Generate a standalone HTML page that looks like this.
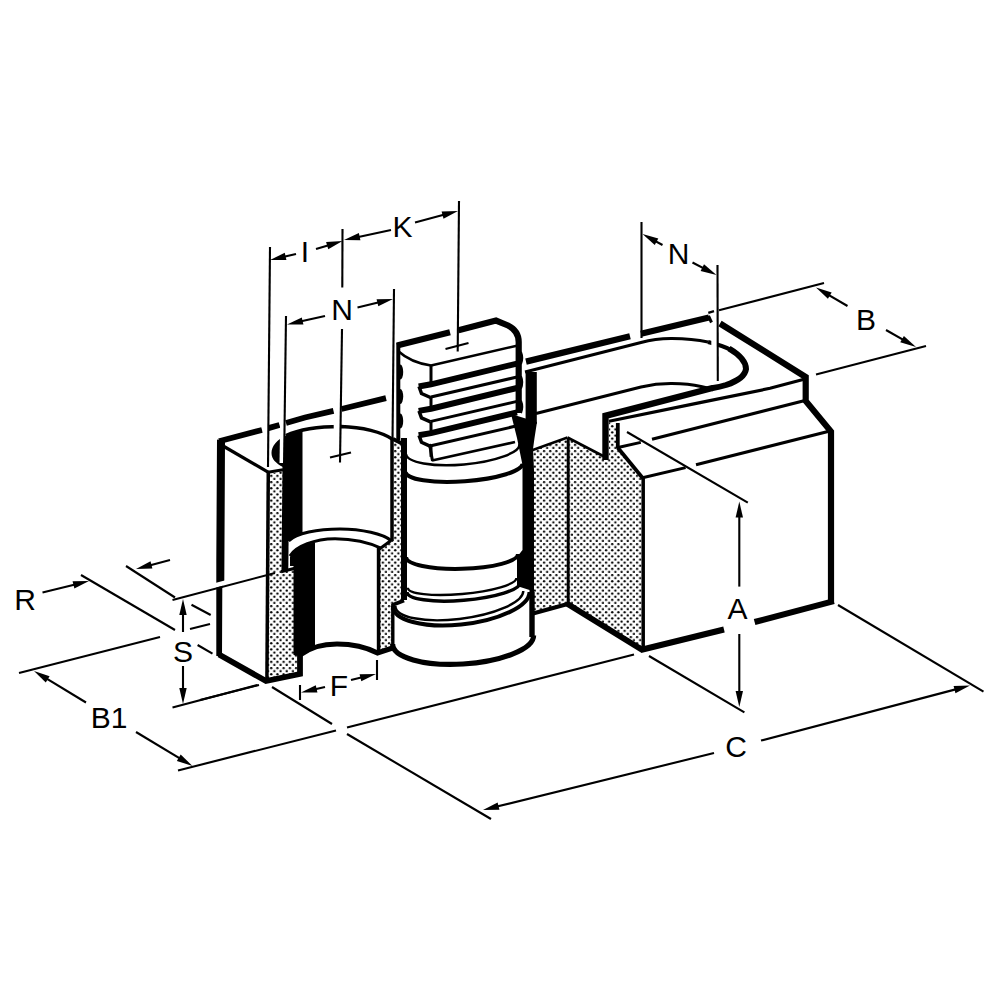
<!DOCTYPE html>
<html><head><meta charset="utf-8"><style>
html,body{margin:0;padding:0;background:#fff;}
body{width:1000px;height:1000px;overflow:hidden;}
svg{display:block;font-family:"Liberation Sans",sans-serif;}
</style></head><body>
<svg width="1000" height="1000" viewBox="0 0 1000 1000">
<defs>
<pattern id="dots" width="6.2" height="6.2" patternUnits="userSpaceOnUse">
<rect width="6.2" height="6.2" fill="#fff"/>
<circle cx="1.55" cy="1.55" r="1.17" fill="#000"/>
<circle cx="4.65" cy="4.65" r="1.17" fill="#000"/>
</pattern>
</defs>
<rect width="1000" height="1000" fill="#fff"/>
<polygon points="270,474 283,471 283,571.5 294.8,568.5 294.8,655 300,655 300,674 267,681" fill="url(#dots)" stroke="none" stroke-width="0"/>
<polygon points="394,442 403,445 403,602 392,606 392,647.5 379,652 379,548 392,540" fill="url(#dots)" stroke="none" stroke-width="0"/>
<polygon points="530,451 567.5,437.5 604,456.5 609,458 609,422 617.5,427.5 617.5,446 642.5,477 642.5,649.5 567.6,604 533,613" fill="url(#dots)" stroke="none" stroke-width="0"/>
<path d="M302.5,430 L302.5,534 C296,535.5 291,538 288.6,541 L283,541 L283,467 C276,463.5 271.5,459 271.5,453 C271.5,446 277,439.5 286,435.5 C291,433 297,431 302.5,430 Z" fill="#000" stroke="none" stroke-width="0" stroke-linejoin="miter" stroke-linecap="butt"/>
<path d="M290,557 C292,550 302,545 315,542.5 L315,646.5 L300,655.5 L294.5,655.5 L294.5,566 L290,566 Z" fill="#000" stroke="none" stroke-width="0" stroke-linejoin="miter" stroke-linecap="butt"/>
<polygon points="525.6,372 536.8,372 536.8,424 525.6,420" fill="#000" stroke="none" stroke-width="0"/>
<polygon points="511,414 537,422 534.5,438 533,449 534,470 534,596 529.5,596 529.5,590 517,586 517,557 522.5,550 522.5,465 517,438" fill="#000" stroke="none" stroke-width="0"/>
<polygon points="217,439.5 225,441.5 224.3,581 222.3,588 222,656 216.3,656 216.3,560" fill="#000" stroke="none" stroke-width="0"/>
<path d="M219,654.5 L266,681 L300,674 L300,655" fill="none" stroke="#000" stroke-width="5.8" stroke-linejoin="miter" stroke-linecap="butt"/>
<path d="M300,655 C310,647.5 323,644 337,644 C352,644 366,647 377.5,653 L392.5,648" fill="none" stroke="#000" stroke-width="5.2" stroke-linejoin="miter" stroke-linecap="butt"/>
<line x1="224" y1="446.5" x2="268.5" y2="472.3" stroke="#000" stroke-width="3.2" stroke-linecap="butt"/>
<line x1="268.3" y1="471" x2="266.9" y2="682" stroke="#000" stroke-width="3.5" stroke-linecap="butt"/>
<line x1="268" y1="472.3" x2="283" y2="469.8" stroke="#000" stroke-width="3" stroke-linecap="butt"/>
<line x1="285.9" y1="464" x2="284.9" y2="571" stroke="#000" stroke-width="6.8" stroke-linecap="butt"/>
<line x1="281" y1="571.8" x2="295" y2="568.3" stroke="#000" stroke-width="3" stroke-linecap="butt"/>
<line x1="294.5" y1="565" x2="294.5" y2="655" stroke="#000" stroke-width="2" stroke-linecap="butt"/>
<path d="M219,441.20 L262,430.00" fill="none" stroke="#000" stroke-width="5.8" stroke-linejoin="miter" stroke-linecap="butt"/>
<path d="M267.5,428.40 L279.5,424.91" fill="none" stroke="#000" stroke-width="5.8" stroke-linejoin="miter" stroke-linecap="butt"/>
<path d="M286,423.02 L305,417.50 L333.5,410.85" fill="none" stroke="#000" stroke-width="5.8" stroke-linejoin="miter" stroke-linecap="butt"/>
<path d="M341.5,408.98 L342.5,408.75 L386,398.17" fill="none" stroke="#000" stroke-width="5.8" stroke-linejoin="miter" stroke-linecap="butt"/>
<path d="M286,435.5 C300,429 320,426.5 341,426.5 C362,427 382,432 393,439.5" fill="none" stroke="#000" stroke-width="3.5" stroke-linejoin="miter" stroke-linecap="butt"/>
<line x1="392" y1="439" x2="392" y2="541" stroke="#000" stroke-width="3.5" stroke-linecap="butt"/>
<path d="M288.6,541 C296,533 318,529 340,529 C362,529 383,534 391,540.5" fill="none" stroke="#000" stroke-width="3" stroke-linejoin="miter" stroke-linecap="butt"/>
<path d="M290,556 C296,546 315,539 335,538.8 C352,539 368,542 381.4,548.4" fill="none" stroke="#000" stroke-width="3" stroke-linejoin="miter" stroke-linecap="butt"/>
<line x1="391" y1="540.5" x2="379.5" y2="549" stroke="#000" stroke-width="3" stroke-linecap="butt"/>
<line x1="378.6" y1="548" x2="378.6" y2="652" stroke="#000" stroke-width="3.6" stroke-linecap="butt"/>
<line x1="393" y1="439" x2="405" y2="445" stroke="#000" stroke-width="4" stroke-linecap="butt"/>
<line x1="404" y1="438" x2="404" y2="600" stroke="#000" stroke-width="6" stroke-linecap="butt"/>
<path d="M405.5,472 A58.65,13.5 -4.16 0 0 522.5,463.5" fill="none" stroke="#000" stroke-width="4" stroke-linejoin="miter" stroke-linecap="butt"/>
<path d="M406,454 A56.97,15.5 -5.04 0 0 519.5,444" fill="none" stroke="#000" stroke-width="2.5" stroke-linejoin="miter" stroke-linecap="butt"/>
<line x1="432" y1="460.5" x2="515" y2="442" stroke="#000" stroke-width="2.6" stroke-linecap="butt"/>
<path d="M406.00,557.00 C406.00,564.35 431.07,569.63 462.00,568.80 C492.93,567.97 518.00,561.35 518.00,554.00" fill="none" stroke="#000" stroke-width="4" stroke-linejoin="miter" stroke-linecap="butt"/>
<path d="M407.80,587.70 C407.80,593.86 432.13,596.68 462.15,594.00 C492.17,591.32 516.50,584.16 516.50,578.00" fill="none" stroke="#000" stroke-width="2.4" stroke-linejoin="miter" stroke-linecap="butt"/>
<path d="M407.00,592.00 C407.00,599.21 432.41,602.92 463.75,600.30 C495.09,597.68 520.50,589.71 520.50,582.50" fill="none" stroke="#000" stroke-width="3.5" stroke-linejoin="miter" stroke-linecap="butt"/>
<line x1="392.8" y1="604" x2="392.8" y2="647" stroke="#000" stroke-width="3.4" stroke-linecap="butt"/>
<line x1="532" y1="592" x2="532" y2="637" stroke="#000" stroke-width="5.4" stroke-linecap="butt"/>
<path d="M392.5,605 L404,600.5" fill="none" stroke="#000" stroke-width="4" stroke-linejoin="miter" stroke-linecap="butt"/>
<path d="M392.80,606.00 C392.80,620.14 423.40,628.47 461.15,624.60 C498.90,620.73 529.50,606.14 529.50,592.00" fill="none" stroke="#000" stroke-width="4" stroke-linejoin="miter" stroke-linecap="butt"/>
<path d="M395.40,606.00 C395.40,617.32 424.03,623.14 459.35,619.00 C494.67,614.86 523.30,602.32 523.30,591.00" fill="none" stroke="#000" stroke-width="2.4" stroke-linejoin="miter" stroke-linecap="butt"/>
<path d="M392.60,644.00 C392.60,657.39 424.16,666.35 463.10,664.00 C502.04,661.65 533.60,648.89 533.60,635.50" fill="none" stroke="#000" stroke-width="5.2" stroke-linejoin="miter" stroke-linecap="butt"/>
<path d="M397,345.5 L450,332.3" fill="none" stroke="#000" stroke-width="6.2" stroke-linejoin="miter" stroke-linecap="butt"/>
<path d="M458.5,330.2 L496,320.6 L508,325.5 C515,329 518.7,334 518.7,342 L518.7,413" fill="none" stroke="#000" stroke-width="6.2" stroke-linejoin="miter" stroke-linecap="butt"/>
<path d="M398.3,343 L398.3,440" fill="none" stroke="#000" stroke-width="4" stroke-linejoin="miter" stroke-linecap="butt"/>
<ellipse cx="400.3" cy="372" rx="2.9" ry="7.5" fill="#000"/>
<ellipse cx="400.3" cy="396.5" rx="2.9" ry="7.5" fill="#000"/>
<ellipse cx="400.3" cy="421" rx="2.9" ry="7.5" fill="#000"/>
<path d="M398,351 C408,360 420,364 431,365.5" fill="none" stroke="#000" stroke-width="2.5" stroke-linejoin="miter" stroke-linecap="butt"/>
<line x1="431" y1="365.5" x2="518" y2="345.4" stroke="#000" stroke-width="2.6" stroke-linecap="butt"/>
<line x1="431" y1="365" x2="431" y2="385" stroke="#000" stroke-width="3" stroke-linecap="butt"/>
<path d="M418.7,386.5 L431,384.3 L517,363.6" fill="none" stroke="#000" stroke-width="6" stroke-linejoin="miter" stroke-linecap="butt"/>
<path d="M419,386.5 L421.5,393.5 L430.5,397.5" fill="none" stroke="#000" stroke-width="3.5" stroke-linejoin="miter" stroke-linecap="butt"/>
<line x1="431" y1="397.0" x2="517" y2="377.0" stroke="#000" stroke-width="3" stroke-linecap="butt"/>
<line x1="431" y1="397.0" x2="431" y2="408.0" stroke="#000" stroke-width="3" stroke-linecap="butt"/>
<path d="M418.7,410.9 L431,408.7 L517,388.0" fill="none" stroke="#000" stroke-width="6" stroke-linejoin="miter" stroke-linecap="butt"/>
<path d="M419,410.9 L421.5,417.9 L430.5,421.9" fill="none" stroke="#000" stroke-width="3.5" stroke-linejoin="miter" stroke-linecap="butt"/>
<line x1="431" y1="421.4" x2="517" y2="401.4" stroke="#000" stroke-width="3" stroke-linecap="butt"/>
<line x1="431" y1="421.4" x2="431" y2="432.4" stroke="#000" stroke-width="3" stroke-linecap="butt"/>
<path d="M418.7,435.3 L431,433.1 L517,412.40000000000003" fill="none" stroke="#000" stroke-width="6" stroke-linejoin="miter" stroke-linecap="butt"/>
<path d="M419,435.3 L421.5,442.3 L430.5,446.3" fill="none" stroke="#000" stroke-width="3.5" stroke-linejoin="miter" stroke-linecap="butt"/>
<line x1="431" y1="445.8" x2="517" y2="425.8" stroke="#000" stroke-width="3" stroke-linecap="butt"/>
<line x1="431" y1="445.8" x2="431" y2="456.8" stroke="#000" stroke-width="3" stroke-linecap="butt"/>
<line x1="429.5" y1="444" x2="432.5" y2="461" stroke="#000" stroke-width="3" stroke-linecap="butt"/>
<path d="M520.5,352.0 q2.5,6 0,12" fill="none" stroke="#000" stroke-width="3" stroke-linejoin="miter" stroke-linecap="butt"/>
<path d="M520.5,376.4 q2.5,6 0,12" fill="none" stroke="#000" stroke-width="3" stroke-linejoin="miter" stroke-linecap="butt"/>
<path d="M520.5,400.8 q2.5,6 0,12" fill="none" stroke="#000" stroke-width="3" stroke-linejoin="miter" stroke-linecap="butt"/>
<line x1="526" y1="361.6" x2="630" y2="336.3" stroke="#000" stroke-width="6.3" stroke-linecap="butt"/>
<line x1="641" y1="333.8" x2="709" y2="317.5" stroke="#000" stroke-width="6.3" stroke-linecap="butt"/>
<line x1="708.5" y1="316" x2="711.5" y2="322.5" stroke="#000" stroke-width="3" stroke-linecap="butt"/>
<path d="M525,372 L641,342.5 C652,339.5 662,338.5 672,338.6 C686,338.8 698,340 708,342" fill="none" stroke="#000" stroke-width="3" stroke-linejoin="miter" stroke-linecap="butt"/>
<path d="M708,342 C718,344.5 726,347 731,350" fill="none" stroke="#000" stroke-width="4.2" stroke-linejoin="miter" stroke-linecap="butt"/>
<path d="M729,348.5 C740,355 746,362 746,369 C745,376 738,381 726,385 C721,386.5 716,387.5 711.6,388.3" fill="none" stroke="#000" stroke-width="6" stroke-linejoin="miter" stroke-linecap="butt"/>
<path d="M712.5,388 L605.5,415.8 L605.5,460" fill="none" stroke="#000" stroke-width="6.4" stroke-linejoin="miter" stroke-linecap="butt"/>
<path d="M536,413.5 L641,387 C652,384.5 662,383.5 672,383.6 C684,383.8 694,385 701,386.5 L712,389" fill="none" stroke="#000" stroke-width="3" stroke-linejoin="miter" stroke-linecap="butt"/>
<path d="M609,421.2 L700,402.6 L770,388.3 L805,379" fill="none" stroke="#000" stroke-width="3.2" stroke-linejoin="miter" stroke-linecap="butt"/>
<line x1="617.8" y1="423" x2="617.8" y2="448" stroke="#000" stroke-width="3.8" stroke-linecap="butt"/>
<line x1="618" y1="447.5" x2="640.8" y2="442.4" stroke="#000" stroke-width="3" stroke-linecap="butt"/>
<line x1="652" y1="439.2" x2="805" y2="400.5" stroke="#000" stroke-width="3.2" stroke-linecap="butt"/>
<line x1="617.6" y1="447.5" x2="643" y2="478.5" stroke="#000" stroke-width="3.8" stroke-linecap="butt"/>
<line x1="642.5" y1="477.8" x2="685.6" y2="467.6" stroke="#000" stroke-width="3" stroke-linecap="butt"/>
<line x1="696" y1="464.8" x2="830" y2="431" stroke="#000" stroke-width="3.2" stroke-linecap="butt"/>
<path d="M720,323.5 L805.7,377 L805.7,401 L831,431.5 L831,604" fill="none" stroke="#000" stroke-width="6.2" stroke-linejoin="miter" stroke-linecap="butt"/>
<line x1="833.8" y1="601.2" x2="754.6" y2="622" stroke="#000" stroke-width="6" stroke-linecap="butt"/>
<line x1="724" y1="629.5" x2="640.5" y2="650" stroke="#000" stroke-width="6" stroke-linecap="butt"/>
<line x1="643.2" y1="477" x2="643.2" y2="650" stroke="#000" stroke-width="3.5" stroke-linecap="butt"/>
<line x1="568.2" y1="438" x2="568.2" y2="604" stroke="#000" stroke-width="3" stroke-linecap="butt"/>
<line x1="567.5" y1="437.5" x2="530" y2="451" stroke="#000" stroke-width="2.4" stroke-linecap="butt"/>
<line x1="567.5" y1="437.5" x2="605" y2="457" stroke="#000" stroke-width="2.6" stroke-linecap="butt"/>
<line x1="533" y1="613.5" x2="567.6" y2="604" stroke="#000" stroke-width="4" stroke-linecap="butt"/>
<line x1="566" y1="603" x2="642.4" y2="650" stroke="#000" stroke-width="5.8" stroke-linecap="butt"/>
<line x1="265.7" y1="418" x2="265.2" y2="464" stroke="#fff" stroke-width="5.5"/>
<line x1="212" y1="586.2" x2="228" y2="582" stroke="#fff" stroke-width="4.6"/>
<line x1="282.4" y1="413" x2="281.6" y2="463" stroke="#fff" stroke-width="4.2"/>
<line x1="337.2" y1="420" x2="337.2" y2="432" stroke="#fff" stroke-width="7"/>
<line x1="714.3" y1="336" x2="714.3" y2="351" stroke="#fff" stroke-width="6"/>
<line x1="270" y1="247" x2="268" y2="467" stroke="#000" stroke-width="2.1" stroke-linecap="butt"/>
<line x1="286" y1="316" x2="284" y2="468" stroke="#000" stroke-width="2.1" stroke-linecap="butt"/>
<line x1="342.5" y1="229" x2="342.3" y2="287.5" stroke="#000" stroke-width="2.1" stroke-linecap="butt"/>
<line x1="342" y1="329" x2="340" y2="462.5" stroke="#000" stroke-width="2.1" stroke-linecap="butt"/>
<line x1="330" y1="457.5" x2="351" y2="452.5" stroke="#000" stroke-width="2.1" stroke-linecap="butt"/>
<line x1="394" y1="289" x2="392.5" y2="441" stroke="#000" stroke-width="2.1" stroke-linecap="butt"/>
<line x1="459" y1="201" x2="457.7" y2="351.5" stroke="#000" stroke-width="2.1" stroke-linecap="butt"/>
<line x1="445.5" y1="349" x2="468.5" y2="343" stroke="#000" stroke-width="2.1" stroke-linecap="butt"/>
<line x1="296" y1="254" x2="279.74" y2="257.75" stroke="#000" stroke-width="2.1" stroke-linecap="butt"/>
<polygon points="270,260 284.76,252.8 286.42,260.01" fill="#000" stroke="none" stroke-width="0"/>
<line x1="316" y1="249" x2="332.93" y2="243.89" stroke="#000" stroke-width="2.1" stroke-linecap="butt"/>
<polygon points="342.5,241 328.25,249.17 326.11,242.08" fill="#000" stroke="none" stroke-width="0"/>
<line x1="391" y1="230" x2="353.78" y2="237.92" stroke="#000" stroke-width="2.1" stroke-linecap="butt"/>
<polygon points="344,240 358.88,233.05 360.42,240.29" fill="#000" stroke="none" stroke-width="0"/>
<line x1="415" y1="222.5" x2="448.34" y2="213.58" stroke="#000" stroke-width="2.1" stroke-linecap="butt"/>
<polygon points="458,211 443.5,218.71 441.59,211.56" fill="#000" stroke="none" stroke-width="0"/>
<line x1="325" y1="316" x2="296.76" y2="322.32" stroke="#000" stroke-width="2.1" stroke-linecap="butt"/>
<polygon points="287,324.5 301.81,317.4 303.42,324.62" fill="#000" stroke="none" stroke-width="0"/>
<line x1="357.5" y1="307.5" x2="383.27" y2="301.33" stroke="#000" stroke-width="2.1" stroke-linecap="butt"/>
<polygon points="393,299 378.3,306.32 376.58,299.13" fill="#000" stroke="none" stroke-width="0"/>
<line x1="641.5" y1="222" x2="641.5" y2="338" stroke="#000" stroke-width="2.1" stroke-linecap="butt"/>
<line x1="717.5" y1="265" x2="717.8" y2="381" stroke="#000" stroke-width="2.1" stroke-linecap="butt"/>
<line x1="662.5" y1="245" x2="651.26" y2="238.82" stroke="#000" stroke-width="2.1" stroke-linecap="butt"/>
<polygon points="642.5,234 658.3,238.47 654.74,244.95" fill="#000" stroke="none" stroke-width="0"/>
<line x1="692.5" y1="262.5" x2="707.63" y2="270.38" stroke="#000" stroke-width="2.1" stroke-linecap="butt"/>
<polygon points="716.5,275 700.6,270.89 704.02,264.33" fill="#000" stroke="none" stroke-width="0"/>
<line x1="719" y1="310.3" x2="824" y2="283" stroke="#000" stroke-width="2.1" stroke-linecap="butt"/>
<line x1="816" y1="374.5" x2="926" y2="346" stroke="#000" stroke-width="2.1" stroke-linecap="butt"/>
<line x1="708.3" y1="312.9" x2="714" y2="311.2" stroke="#000" stroke-width="2.4" stroke-linecap="butt"/>
<line x1="847.5" y1="306" x2="824.62" y2="292.56" stroke="#000" stroke-width="2.1" stroke-linecap="butt"/>
<polygon points="816,287.5 831.67,292.41 827.92,298.79" fill="#000" stroke="none" stroke-width="0"/>
<line x1="886" y1="330" x2="907.3" y2="342.07" stroke="#000" stroke-width="2.1" stroke-linecap="butt"/>
<polygon points="916,347 900.26,342.33 903.9,335.89" fill="#000" stroke="none" stroke-width="0"/>
<line x1="627" y1="432" x2="747.8" y2="502.6" stroke="#000" stroke-width="2.1" stroke-linecap="butt"/>
<line x1="649" y1="656" x2="744.4" y2="712.4" stroke="#000" stroke-width="2.1" stroke-linecap="butt"/>
<line x1="739.3" y1="586.6" x2="739.3" y2="511.6" stroke="#000" stroke-width="2.1" stroke-linecap="butt"/>
<polygon points="739.3,501.6 743.0,517.6 735.6,517.6" fill="#000" stroke="none" stroke-width="0"/>
<line x1="739.3" y1="634" x2="739.3" y2="697.0" stroke="#000" stroke-width="2.1" stroke-linecap="butt"/>
<polygon points="739.3,707 735.6,691.0 743.0,691.0" fill="#000" stroke="none" stroke-width="0"/>
<line x1="838" y1="605" x2="983.5" y2="691.7" stroke="#000" stroke-width="2.1" stroke-linecap="butt"/>
<line x1="761" y1="740.6" x2="960.33" y2="688.14" stroke="#000" stroke-width="2.1" stroke-linecap="butt"/>
<polygon points="970,685.6 955.47,693.25 953.59,686.09" fill="#000" stroke="none" stroke-width="0"/>
<line x1="714" y1="753" x2="492.71" y2="807.6" stroke="#000" stroke-width="2.1" stroke-linecap="butt"/>
<polygon points="483,810 497.65,802.57 499.42,809.76" fill="#000" stroke="none" stroke-width="0"/>
<line x1="272" y1="687" x2="332" y2="724" stroke="#000" stroke-width="2.1" stroke-linecap="butt"/>
<line x1="347" y1="734" x2="491" y2="819" stroke="#000" stroke-width="2.1" stroke-linecap="butt"/>
<line x1="178" y1="770.5" x2="336" y2="730.4" stroke="#000" stroke-width="2.1" stroke-linecap="butt"/>
<line x1="347" y1="727.6" x2="634" y2="654.6" stroke="#000" stroke-width="2.1" stroke-linecap="butt"/>
<line x1="19" y1="673" x2="160" y2="637" stroke="#000" stroke-width="2.1" stroke-linecap="butt"/>
<line x1="86" y1="702.5" x2="42.55" y2="676.18" stroke="#000" stroke-width="2.1" stroke-linecap="butt"/>
<polygon points="34,671 49.6,676.13 45.77,682.45" fill="#000" stroke="none" stroke-width="0"/>
<line x1="136" y1="732" x2="183.93" y2="760.84" stroke="#000" stroke-width="2.1" stroke-linecap="butt"/>
<polygon points="192.5,766 176.88,760.92 180.7,754.58" fill="#000" stroke="none" stroke-width="0"/>
<line x1="42.5" y1="592.5" x2="79.29" y2="583.4" stroke="#000" stroke-width="2.1" stroke-linecap="butt"/>
<polygon points="89,581 74.36,588.43 72.58,581.25" fill="#000" stroke="none" stroke-width="0"/>
<line x1="81" y1="575" x2="175" y2="630" stroke="#000" stroke-width="2.1" stroke-linecap="butt"/>
<line x1="126" y1="566" x2="175" y2="597.5" stroke="#000" stroke-width="2.1" stroke-linecap="butt"/>
<line x1="191.5" y1="604.7" x2="210.7" y2="615" stroke="#000" stroke-width="2.1" stroke-linecap="butt"/>
<line x1="170" y1="560" x2="145.67" y2="566.44" stroke="#000" stroke-width="2.1" stroke-linecap="butt"/>
<polygon points="136,569 150.52,561.33 152.41,568.48" fill="#000" stroke="none" stroke-width="0"/>
<line x1="190" y1="629" x2="210" y2="624" stroke="#000" stroke-width="2.1" stroke-linecap="butt"/>
<line x1="197.6" y1="645" x2="212.5" y2="653.7" stroke="#000" stroke-width="2.1" stroke-linecap="butt"/>
<line x1="172.5" y1="600" x2="275" y2="573" stroke="#000" stroke-width="2.1" stroke-linecap="butt"/>
<line x1="172.5" y1="707.5" x2="257.5" y2="685" stroke="#000" stroke-width="2.1" stroke-linecap="butt"/>
<line x1="200" y1="700" x2="259" y2="685" stroke="#000" stroke-width="2.1" stroke-linecap="butt"/>
<line x1="183" y1="632" x2="183.0" y2="609.0" stroke="#000" stroke-width="2.1" stroke-linecap="butt"/>
<polygon points="183,599 186.7,615.0 179.3,615.0" fill="#000" stroke="none" stroke-width="0"/>
<line x1="183" y1="666" x2="183.0" y2="694.0" stroke="#000" stroke-width="2.1" stroke-linecap="butt"/>
<polygon points="183,704 179.3,688.0 186.7,688.0" fill="#000" stroke="none" stroke-width="0"/>
<line x1="300" y1="685" x2="300" y2="700" stroke="#000" stroke-width="2.1" stroke-linecap="butt"/>
<line x1="377" y1="660" x2="377" y2="680" stroke="#000" stroke-width="2.1" stroke-linecap="butt"/>
<line x1="325" y1="687" x2="310.75" y2="690.27" stroke="#000" stroke-width="2.1" stroke-linecap="butt"/>
<polygon points="301,692.5 315.77,685.32 317.42,692.53" fill="#000" stroke="none" stroke-width="0"/>
<line x1="351" y1="680" x2="366.28" y2="676.33" stroke="#000" stroke-width="2.1" stroke-linecap="butt"/>
<polygon points="376,674 361.31,681.33 359.58,674.14" fill="#000" stroke="none" stroke-width="0"/>
<text x="305" y="251" font-size="30" text-anchor="middle" dominant-baseline="central">I</text>
<text x="402.5" y="226" font-size="30" text-anchor="middle" dominant-baseline="central">K</text>
<text x="342" y="309.5" font-size="30" text-anchor="middle" dominant-baseline="central">N</text>
<text x="678.5" y="253.5" font-size="30" text-anchor="middle" dominant-baseline="central">N</text>
<text x="866" y="319.5" font-size="30" text-anchor="middle" dominant-baseline="central">B</text>
<text x="737.6" y="608.7" font-size="30" text-anchor="middle" dominant-baseline="central">A</text>
<text x="736" y="746" font-size="30" text-anchor="middle" dominant-baseline="central">C</text>
<text x="109" y="717" font-size="30" text-anchor="middle" dominant-baseline="central">B1</text>
<text x="25" y="599" font-size="30" text-anchor="middle" dominant-baseline="central">R</text>
<text x="183" y="651" font-size="30" text-anchor="middle" dominant-baseline="central">S</text>
<text x="339" y="685" font-size="30" text-anchor="middle" dominant-baseline="central">F</text>
</svg>
</body></html>
